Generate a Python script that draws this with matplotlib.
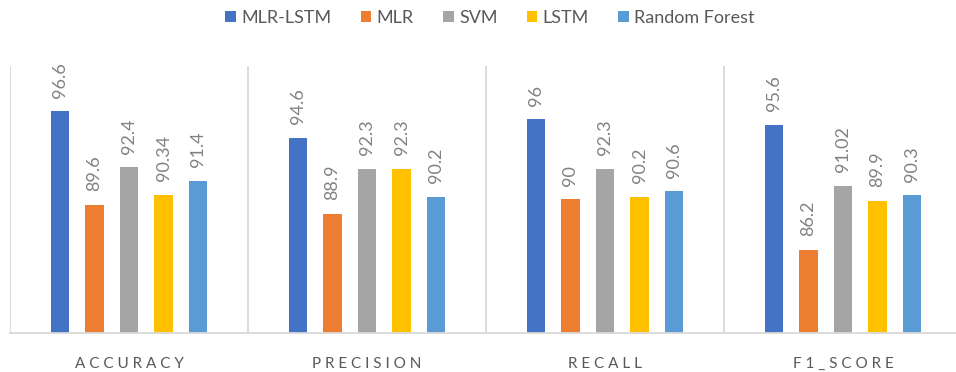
import matplotlib.pyplot as plt
import numpy as np

# Scores per metric for each model
metrics = ['ACCURACY', 'PRECISION', 'RECALL', 'F1_SCORE']
models = ['MLR-LSTM', 'MLR', 'SVM', 'LSTM', 'Random Forest']
mlr_lstm = [96.6, 94.6, 96, 95.6]
mlr = [89.6, 88.9, 90, 86.2]
svm = [92.4, 92.3, 92.3, 91.02]
lstm = [90.34, 92.3, 90.2, 89.9]
random_forest = [91.4, 90.2, 90.6, 90.3]
# labels as printed above the bars
value_labels = [
    ['96.6', '94.6', '96', '95.6'],
    ['89.6', '88.9', '90', '86.2'],
    ['92.4', '92.3', '92.3', '91.02'],
    ['90.34', '92.3', '90.2', '89.9'],
    ['91.4', '90.2', '90.6', '90.3'],
]

colors = ['#4472C4', '#ED7D31', '#A5A5A5', '#FFC000', '#5B9BD5']
series = [mlr_lstm, mlr, svm, lstm, random_forest]

plt.rcParams['font.family'] = ['Lato', 'DejaVu Sans']

fig = plt.figure(figsize=(9.56, 3.72), dpi=100)
ax = fig.add_axes([10 / 956, 1 - 333 / 372, 952 / 956, (333 - 66) / 372])

x = np.arange(len(metrics))
step = 0.145
width = 0.078
for i, (vals, color, name) in enumerate(zip(series, colors, models)):
    pos = x + (i - 2) * step
    ax.bar(pos, vals, width, color=color, label=name, zorder=2)
    for xp, v, txt in zip(pos, vals, value_labels[i]):
        ax.annotate(txt, (xp, v), xytext=(0, 10), textcoords='offset points',
                    rotation=90, ha='center', va='bottom',
                    color='#828282', fontsize=13)

ax.set_xlim(-0.5, len(metrics) - 0.5)
ax.set_ylim(80, 100)

# group separators
for b in np.arange(len(metrics) + 1) - 0.5:
    ax.axvline(b, color='#d9d9d9', lw=1.3, zorder=1)

for s in ['top', 'right', 'left']:
    ax.spines[s].set_visible(False)
ax.spines['bottom'].set_color('#d9d9d9')
ax.spines['bottom'].set_linewidth(1.3)
ax.set_yticks([])
ax.set_xticks(x)
ax.set_xticklabels([' '.join(m) for m in metrics], fontsize=11, color='#595959')
ax.tick_params(axis='x', length=0, pad=17)

handles, labels = ax.get_legend_handles_labels()
fig.legend(handles, labels, loc='center', bbox_to_anchor=(490 / 956, 1 - 18 / 372),
           ncol=5, frameon=False, fontsize=13, labelcolor='#595959',
           handlelength=0.6, handleheight=0.6, handletextpad=0.3, columnspacing=1.6)

fig.savefig('out.png', dpi=100)
